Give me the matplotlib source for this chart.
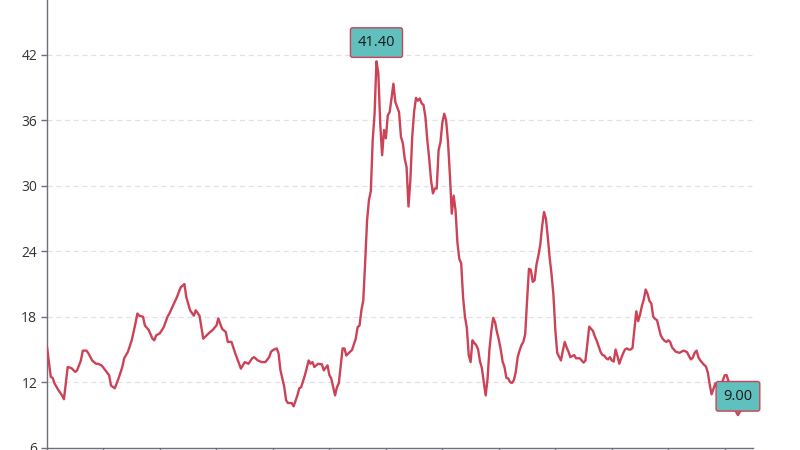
import matplotlib
matplotlib.use("Agg")
import matplotlib.pyplot as plt
import numpy as np

days = [0, 2, 3, 4, 6, 8, 9, 11, 13, 15, 16, 18, 19, 21, 22, 24, 26, 27, 29, 31, 33, 34, 36, 38, 40, 41, 43, 45, 47, 48,
        49, 51, 52, 54, 56, 57, 58, 60, 62, 64, 65, 67, 69, 71, 73, 74, 76, 78, 79, 81, 83, 86, 88, 90, 91, 93, 95, 96, 98, 100,
        102, 103, 105, 107, 109, 110, 112, 114, 116, 118, 119, 120, 122, 123, 124, 126, 127, 128, 130, 131, 133, 134, 135, 137, 139, 140, 141, 142, 144, 146,
        147, 149, 150, 151, 153, 154, 155, 157, 158, 159, 161, 162, 164, 165, 166, 167, 168, 169, 170, 171, 172, 173, 174, 175, 176, 177, 178, 179, 180, 181,
        182, 183, 184, 185, 186, 187, 188, 189, 190, 191, 192, 193, 194, 195, 196, 197, 198, 199, 200, 201, 202, 203, 204, 205, 206, 207, 208, 209, 210, 211,
        212, 213, 214, 215, 216, 217] + list(range(218, 370))

values = [15.23, 12.5, 12.4, 11.9, 11.3, 10.8, 10.45, 13.4, 13.3, 12.95, 13.1, 14.0, 14.9, 14.9, 14.65, 14.0, 13.7, 13.7, 13.55, 13.1,
          12.65, 11.7, 11.45, 12.35, 13.4, 14.2, 14.8, 15.85, 17.4, 18.3, 18.1, 18.0, 17.2, 16.8, 16.0, 15.85, 16.3, 16.5, 17.05, 18.0,
          18.3, 19.05, 19.8, 20.7, 21.0, 19.8, 18.6, 18.1, 18.6, 18.1, 16.0, 16.5, 16.8, 17.2, 17.85, 16.9, 16.6, 15.7, 15.7, 14.65,
          13.7, 13.25, 13.85, 13.7, 14.2, 14.3, 14.0, 13.85, 13.85, 14.3, 14.8, 14.95, 15.1, 14.65, 13.1, 11.6, 10.35, 10.1, 10.1, 9.8,
          10.8, 11.45, 11.55, 12.65, 14.0, 13.7, 13.85, 13.4, 13.7, 13.65, 13.1, 13.55, 12.65, 12.35, 10.8, 11.55, 11.9, 15.1, 15.1, 14.45,
          14.8, 14.95, 16.0, 17.05, 17.2, 18.6, 19.5, 23.0, 26.8, 28.7, 29.5, 34.2, 36.6, 41.4, 40.3, 35.7, 32.8, 35.1, 34.35, 36.45,
          36.75, 38.0, 39.35, 37.7, 37.2, 36.75, 34.5, 33.9, 32.5, 31.7, 28.1, 30.5, 34.5, 36.8, 38.05, 37.8, 38.0, 37.55, 37.4, 36.3,
          34.2, 32.5, 30.5, 29.3, 29.75, 29.75, 33.25, 34.0, 35.8, 36.6, 36.0, 34.0, 31.0, 27.45, 29.1, 27.75,
          24.8, 23.3, 22.9, 19.8, 18.0, 17.0, 14.5, 13.85, 15.85, 15.6, 15.4, 15.0, 13.9, 13.3, 12.0, 10.8, 12.3, 15.0, 16.7, 17.9,
          17.5, 16.6, 15.9, 15.0, 13.9, 13.4, 12.4, 12.35, 12.0, 11.95, 12.2, 12.95, 14.3, 14.9, 15.4, 15.7, 16.4, 19.5, 22.4, 22.3,
          21.2, 21.35, 22.8, 23.6, 24.6, 26.3, 27.6, 27.0, 25.3, 23.4, 21.9, 20.0, 16.8, 14.7, 14.35, 14.0, 14.9, 15.7, 15.2, 14.8,
          14.3, 14.4, 14.5, 14.2, 14.2, 14.2, 14.0, 13.8, 14.0, 15.5, 17.1, 16.9, 16.7, 16.2, 15.8, 15.3, 14.8, 14.5, 14.45, 14.2,
          14.1, 14.3, 14.0, 13.9, 15.0, 14.4, 13.7, 14.2, 14.65, 15.0, 15.1, 15.0, 15.0, 15.15, 16.8, 18.5, 17.6, 18.2, 19.0, 19.6,
          20.5, 20.1, 19.45, 19.2, 18.0, 17.8, 17.7, 17.0, 16.3, 16.0, 15.8, 15.7, 15.85, 15.7, 15.2, 15.0, 14.8, 14.75, 14.7, 14.8,
          14.9, 14.85, 14.75, 14.4, 14.1, 14.25, 14.7, 14.9, 14.3, 14.0, 13.8, 13.6, 13.45, 12.9, 11.8, 10.9, 11.4, 11.9, 11.55, 11.45,
          11.5, 12.2, 12.65, 12.65, 12.1, 11.2, 10.4, 9.8, 9.3, 9.0, 9.3, 9.6]

y_ticks = [6, 12, 18, 24, 30, 36, 42]
x_ticks = list(range(0, 361, 30))

LINE = "#cc4256"
BOX = "#5fc0be"
AXIS = "#6E7079"
GRID = "#e2e2e2"

plt.rcParams["font.family"] = ["Open Sans", "DejaVu Sans"]

fig = plt.figure(figsize=(8, 4.5), dpi=100)
fig.patch.set_facecolor("white")
ax = fig.add_axes([47 / 800, 2.2 / 450, 706 / 800, 458.5 / 450])
ax.set_xlim(0, 375)
ax.set_ylim(6, 48)

for t in y_ticks[1:]:
    ax.axhline(t, color=GRID, lw=0.9, ls=(0, (4, 3)), zorder=1)

ax.plot(days, values, color=LINE, lw=1.7, zorder=3, solid_joinstyle="round")

for s in ["top", "right"]:
    ax.spines[s].set_visible(False)
for s in ["left", "bottom"]:
    ax.spines[s].set_color(AXIS)
    ax.spines[s].set_linewidth(1.0)

ax.set_yticks(y_ticks)
ax.set_yticklabels([str(t) for t in y_ticks])
ax.set_xticks(x_ticks)
ax.set_xticklabels([])
ax.tick_params(axis="y", length=4, width=1, color=AXIS, labelsize=10, labelcolor="#333333", pad=3)
ax.tick_params(axis="x", length=4, width=1, color=AXIS)

vals = np.array(values)
imax = int(np.argmax(vals))
imin = int(np.argmin(vals))
for i in (imax, imin):
    ax.annotate(f"{vals[i]:.2f}", xy=(days[i], vals[i]), xytext=(0, 13.5), textcoords="offset points",
                ha="center", va="center", fontsize=10.5, color="#1a1a1a", zorder=5,
                bbox=dict(boxstyle="round,pad=0.5,rounding_size=0.15", fc=BOX, ec=LINE, lw=1.0))

fig.savefig("out.png", dpi=100)
